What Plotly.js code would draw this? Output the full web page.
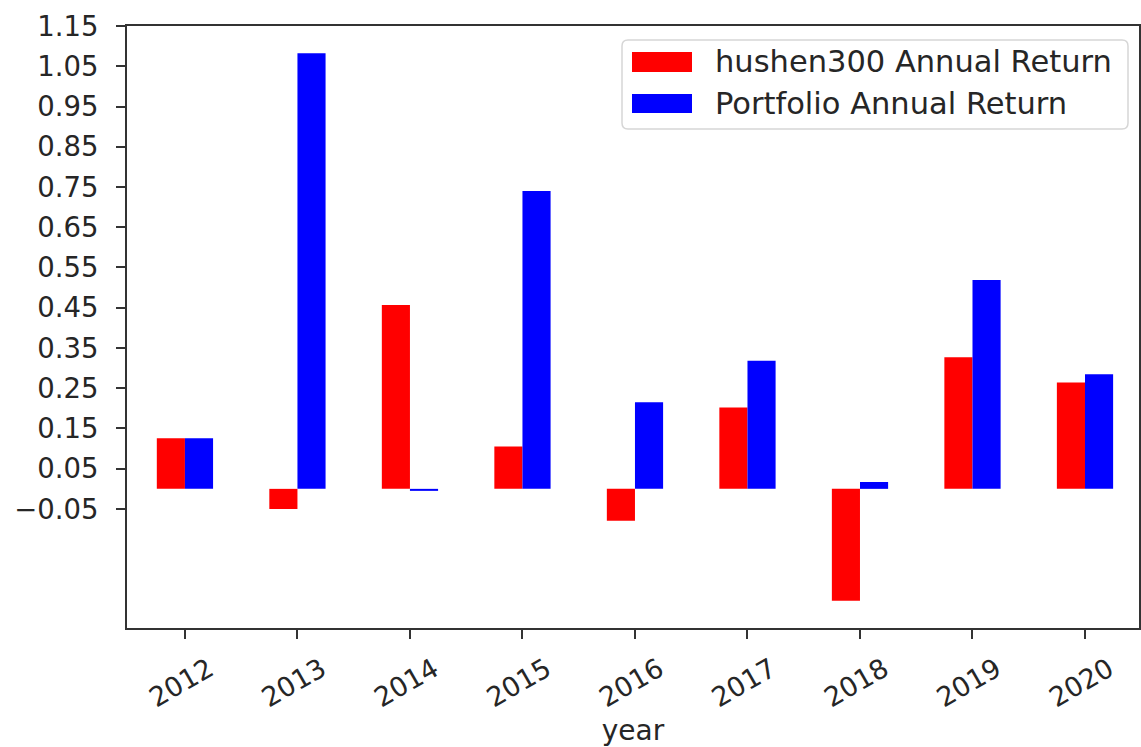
<!DOCTYPE html>
<html>
<head>
<meta charset="utf-8">
<script src="https://cdn.plot.ly/plotly-3.0.1.min.js"></script>
<style>
  html, body { margin: 0; padding: 0; background: #ffffff; }
  #chart { width: 1141px; height: 747px; }
</style>
</head>
<body>
<div id="chart"></div>
<script>
// ---- data ----
const years = ['2012', '2013', '2014', '2015', '2016', '2017', '2018', '2019', '2020'];
const hushen300Return = [0.126, -0.050, 0.457, 0.105, -0.079, 0.202, -0.278, 0.327, 0.264];
const portfolioReturn = [0.126, 1.082, -0.005, 0.740, 0.215, 0.318, 0.017, 0.519, 0.285];
const seriesNames = ['hushen300 Annual Return', 'Portfolio Annual Return'];
const yTickVals = [-0.05, 0.05, 0.15, 0.25, 0.35, 0.45, 0.55, 0.65, 0.75, 0.85, 0.95, 1.05, 1.15];
const yTickText = ['\u22120.05', '0.05', '0.15', '0.25', '0.35', '0.45', '0.55', '0.65', '0.75', '0.85', '0.95', '1.05', '1.15'];
const xAxisTitle = 'year';

// ---- layout helpers ----
const W = 1141, H = 747;
const M = { l: 127, r: 2, t: 26, b: 119 };
const plotW = W - M.l - M.r, plotH = H - M.t - M.b;
const px = x => (x - M.l) / plotW;          // pixel -> paper x
const py = y => (H - M.b - y) / plotH;      // pixel -> paper y

const FONT = 'DejaVu Sans, Liberation Sans, sans-serif';
const TXT = '#262626';
const colors = ['#ff0000', '#0000ff'];

const traces = [
  { type: 'bar', name: seriesNames[0], x: years, y: hushen300Return,
    marker: { color: colors[0], line: { width: 0 } }, showlegend: false },
  { type: 'bar', name: seriesNames[1], x: years, y: portfolioReturn,
    marker: { color: colors[1], line: { width: 0 } }, showlegend: false }
];

// custom legend (matplotlib-style patches)
function roundRectPath(x0, y0, x1, y1, r) {
  const rx = r / plotW, ry = r / plotH;
  const X0 = px(x0), X1 = px(x1), Y0 = py(y0), Y1 = py(y1);
  return `M${X0 + rx},${Y0} L${X1 - rx},${Y0} Q${X1},${Y0} ${X1},${Y0 - ry} ` +
         `L${X1},${Y1 + ry} Q${X1},${Y1} ${X1 - rx},${Y1} L${X0 + rx},${Y1} ` +
         `Q${X0},${Y1} ${X0},${Y1 + ry} L${X0},${Y0 - ry} Q${X0},${Y0} ${X0 + rx},${Y0} Z`;
}
const shapes = [
  { type: 'path', xref: 'paper', yref: 'paper', path: roundRectPath(622, 40, 1128, 129, 6),
    fillcolor: 'rgba(255,255,255,0.85)', line: { color: '#d6d6d6', width: 1.5 } },
  { type: 'rect', xref: 'paper', yref: 'paper', x0: px(632), x1: px(692), y0: py(72), y1: py(52),
    fillcolor: colors[0], line: { width: 0 } },
  { type: 'rect', xref: 'paper', yref: 'paper', x0: px(632), x1: px(692), y0: py(113), y1: py(94),
    fillcolor: colors[1], line: { width: 0 } }
];
const annotations = [
  { xref: 'paper', yref: 'paper', x: px(713), y: py(62), xanchor: 'left', yanchor: 'middle',
    text: seriesNames[0], showarrow: false, font: { family: FONT, size: 30.5, color: TXT } },
  { xref: 'paper', yref: 'paper', x: px(713), y: py(103), xanchor: 'left', yanchor: 'middle',
    text: seriesNames[1], showarrow: false, font: { family: FONT, size: 30.5, color: TXT } }
];

const layout = {
  width: W, height: H,
  margin: M,
  paper_bgcolor: '#ffffff', plot_bgcolor: '#ffffff',
  barmode: 'group', bargap: 0.5, bargroupgap: 0,
  showlegend: false,
  font: { family: FONT, color: TXT },
  xaxis: {
    type: 'category', range: [-0.515, 8.48],
    showgrid: false, zeroline: false,
    showline: true, linecolor: '#333333', linewidth: 2, mirror: true,
    ticks: 'outside', ticklen: 9, tickwidth: 2, tickcolor: '#333333',
    tickangle: -30, ticklabelshift: 24, ticklabelstandoff: 4,
    tickfont: { family: FONT, size: 27, color: TXT },
    title: { text: xAxisTitle, font: { family: FONT, size: 28, color: TXT }, standoff: 12 }
  },
  yaxis: {
    range: [-0.3457, 1.15],
    tickmode: 'array', tickvals: yTickVals, ticktext: yTickText,
    showgrid: false, zeroline: false,
    showline: true, linecolor: '#333333', linewidth: 2, mirror: true,
    ticks: 'outside', ticklen: 9, tickwidth: 2, tickcolor: '#333333',
    ticklabelstandoff: 12,
    tickfont: { family: FONT, size: 27.5, color: TXT }
  },
  shapes: shapes,
  annotations: annotations
};

Plotly.newPlot('chart', traces, layout, { staticPlot: true, displayModeBar: false });
</script>
</body>
</html>
